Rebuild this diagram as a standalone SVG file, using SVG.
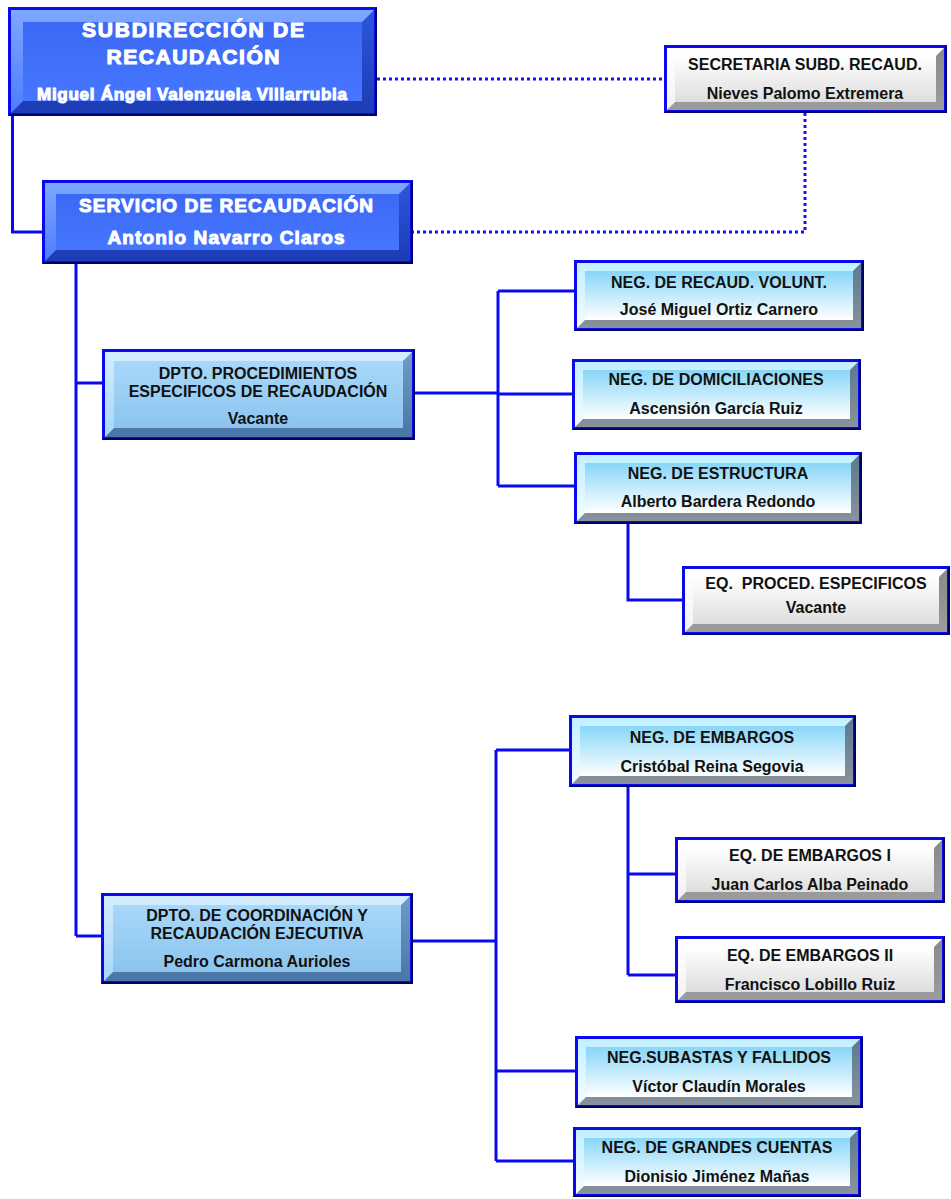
<svg xmlns="http://www.w3.org/2000/svg" width="951" height="1199" viewBox="0 0 951 1199">
<defs>
<linearGradient id="aDk" x1="0" y1="0" x2="0" y2="1"><stop offset="0" stop-color="#2d55dc"/><stop offset="1" stop-color="#1c3cb4"/></linearGradient>
<linearGradient id="aL" x1="0" y1="0" x2="0" y2="1"><stop offset="0" stop-color="#7ea8ff"/><stop offset="1" stop-color="#4c7cff"/></linearGradient>
<linearGradient id="aC" x1="0" y1="0" x2="0" y2="1"><stop offset="0" stop-color="#3c69f4"/><stop offset="1" stop-color="#4676ff"/></linearGradient>
<linearGradient id="bDk" x1="0" y1="0" x2="0" y2="1"><stop offset="0" stop-color="#6e9cc6"/><stop offset="1" stop-color="#4a76a6"/></linearGradient>
<linearGradient id="bL" x1="0" y1="0" x2="0" y2="1"><stop offset="0" stop-color="#d4eeff"/><stop offset="1" stop-color="#a6d6f8"/></linearGradient>
<linearGradient id="bC" x1="0" y1="0" x2="0" y2="1"><stop offset="0" stop-color="#a8d8fa"/><stop offset="1" stop-color="#8cc4ee"/></linearGradient>
<linearGradient id="cDk" x1="0" y1="0" x2="0" y2="1"><stop offset="0" stop-color="#5a7a90"/><stop offset="1" stop-color="#8a929c"/></linearGradient>
<linearGradient id="cL" x1="0" y1="0" x2="0" y2="1"><stop offset="0" stop-color="#c2f0ff"/><stop offset="1" stop-color="#f4fcff"/></linearGradient>
<linearGradient id="cC" x1="0" y1="0" x2="0" y2="1"><stop offset="0" stop-color="#88d6f8"/><stop offset="1" stop-color="#ffffff"/></linearGradient>
<linearGradient id="dDk" x1="0" y1="0" x2="0" y2="1"><stop offset="0" stop-color="#8a8a8a"/><stop offset="1" stop-color="#9c9c9c"/></linearGradient>
<linearGradient id="dL" x1="0" y1="0" x2="0" y2="1"><stop offset="0" stop-color="#ffffff"/><stop offset="1" stop-color="#f2f2f2"/></linearGradient>
<linearGradient id="dC" x1="0" y1="0" x2="0" y2="1"><stop offset="0" stop-color="#ffffff"/><stop offset="1" stop-color="#dedede"/></linearGradient>
</defs>
<style>
.bd{fill:#0a0aea}
.sh{fill:none;stroke:#00006e;stroke-width:2}
.aDk{fill:url(#aDk)}.aL{fill:url(#aL)}.aC{fill:url(#aC)}
.bDk{fill:url(#bDk)}.bL{fill:url(#bL)}.bC{fill:url(#bC)}
.cDk{fill:url(#cDk)}.cL{fill:url(#cL)}.cC{fill:url(#cC)}
.dDk{fill:url(#dDk)}.dL{fill:url(#dL)}.dC{fill:url(#dC)}
text{font-family:"Liberation Sans",Arial,sans-serif;font-weight:bold;text-anchor:middle;white-space:pre}
.w1{fill:#fff;font-size:21px;stroke:#fff;stroke-width:1.1}
.w2{fill:#fff;font-size:19px;stroke:#fff;stroke-width:1}
.w3{fill:#fff;font-size:17px;stroke:#fff;stroke-width:1}
.k{fill:#111;font-size:16px}
.ln{fill:none;stroke:#0a0af2;stroke-width:3}
.dot{fill:none;stroke:#1414ff;stroke-width:3;stroke-dasharray:3 3}
</style>
<g id="connectors">
<path class="dot" d="M377,79 H664"/>
<path class="dot" d="M805,113 V232 H413"/>
<path class="ln" d="M12.5,116 V232 H42"/>
<path class="ln" d="M76,264 V936"/>
<path class="ln" d="M76,383 H102"/>
<path class="ln" d="M76,936 H101"/>
<path class="ln" d="M415,393 H498"/>
<path class="ln" d="M498,291 V486"/>
<path class="ln" d="M498,291 H574"/>
<path class="ln" d="M498,394 H572"/>
<path class="ln" d="M498,486 H574"/>
<path class="ln" d="M628,524 V600 H682"/>
<path class="ln" d="M413,941 H496"/>
<path class="ln" d="M496,750 V1161"/>
<path class="ln" d="M496,750 H569"/>
<path class="ln" d="M496,1071 H575"/>
<path class="ln" d="M496,1161 H573"/>
<path class="ln" d="M628,787 V975"/>
<path class="ln" d="M628,874 H675"/>
<path class="ln" d="M628,975 H675"/>
</g>
<g id="subdireccion">
<rect class="bd" x="8" y="7" width="369" height="109"/>
<rect class="aDk" x="11" y="10" width="363" height="103"/>
<polygon class="aL" points="11,10 374,10 362,22 23,22 23,101 11,113"/>
<rect class="aC" x="23" y="22" width="339" height="79"/>
<path class="sh" d="M376,8 V115 H9"/>
<text class="w1" x="193" y="37" textLength="222" lengthAdjust="spacing">SUBDIRECCIÓN DE</text>
<text class="w1" x="193" y="64" textLength="173" lengthAdjust="spacing">RECAUDACIÓN</text>
<text class="w3" x="192" y="100" textLength="310" lengthAdjust="spacing">Miguel Ángel Valenzuela Villarrubia</text>
</g>
<g id="secretaria">
<rect class="bd" x="664" y="45" width="283" height="68"/>
<rect class="dDk" x="667" y="48" width="277" height="62"/>
<polygon class="dL" points="667,48 944,48 936,56 675,56 675,102 667,110"/>
<rect class="dC" x="675" y="56" width="261" height="46"/>
<path class="sh" d="M946,46 V112 H665"/>
<text class="k" x="805" y="70">SECRETARIA SUBD. RECAUD.</text>
<text class="k" x="805" y="99">Nieves Palomo Extremera</text>
</g>
<g id="servicio">
<rect class="bd" x="42" y="180" width="371" height="84"/>
<rect class="aDk" x="45" y="183" width="365" height="78"/>
<polygon class="aL" points="45,183 410,183 399,194 56,194 56,250 45,261"/>
<rect class="aC" x="56" y="194" width="343" height="56"/>
<path class="sh" d="M412,181 V263 H43"/>
<text class="w2" x="226" y="212" textLength="294" lengthAdjust="spacing">SERVICIO DE RECAUDACIÓN</text>
<text class="w2" x="226" y="244" textLength="237" lengthAdjust="spacing">Antonio Navarro Claros</text>
</g>
<g id="dpto-procedimientos">
<rect class="bd" x="102" y="349" width="313" height="91"/>
<rect class="bDk" x="105" y="352" width="307" height="85"/>
<polygon class="bL" points="105,352 412,352 403,361 114,361 114,428 105,437"/>
<rect class="bC" x="114" y="361" width="289" height="67"/>
<path class="sh" d="M414,350 V439 H103"/>
<text class="k" x="258" y="379">DPTO. PROCEDIMIENTOS</text>
<text class="k" x="258" y="397">ESPECIFICOS DE RECAUDACIÓN</text>
<text class="k" x="258" y="424">Vacante</text>
</g>
<g id="neg-recaud-volunt">
<rect class="bd" x="574" y="260" width="290" height="71"/>
<rect class="cDk" x="577" y="263" width="284" height="65"/>
<polygon class="cL" points="577,263 861,263 853,271 585,271 585,320 577,328"/>
<rect class="cC" x="585" y="271" width="268" height="49"/>
<path class="sh" d="M863,261 V330 H575"/>
<text class="k" x="719" y="288">NEG. DE RECAUD. VOLUNT.</text>
<text class="k" x="719" y="315">José Miguel Ortiz Carnero</text>
</g>
<g id="neg-domiciliaciones">
<rect class="bd" x="572" y="359" width="289" height="71"/>
<rect class="cDk" x="575" y="362" width="283" height="65"/>
<polygon class="cL" points="575,362 858,362 850,370 583,370 583,419 575,427"/>
<rect class="cC" x="583" y="370" width="267" height="49"/>
<path class="sh" d="M860,360 V429 H573"/>
<text class="k" x="716" y="385">NEG. DE DOMICILIACIONES</text>
<text class="k" x="716" y="414">Ascensión García Ruiz</text>
</g>
<g id="neg-estructura">
<rect class="bd" x="574" y="452" width="288" height="72"/>
<rect class="cDk" x="577" y="455" width="282" height="66"/>
<polygon class="cL" points="577,455 859,455 851,463 585,463 585,513 577,521"/>
<rect class="cC" x="585" y="463" width="266" height="50"/>
<path class="sh" d="M861,453 V523 H575"/>
<text class="k" x="718" y="479">NEG. DE ESTRUCTURA</text>
<text class="k" x="718" y="507">Alberto Bardera Redondo</text>
</g>
<g id="eq-proced-especificos">
<rect class="bd" x="682" y="566" width="268" height="69"/>
<rect class="dDk" x="685" y="569" width="262" height="63"/>
<polygon class="dL" points="685,569 947,569 939,577 693,577 693,624 685,632"/>
<rect class="dC" x="693" y="577" width="246" height="47"/>
<path class="sh" d="M949,567 V634 H683"/>
<text class="k" x="816" y="589">EQ.  PROCED. ESPECIFICOS</text>
<text class="k" x="816" y="613">Vacante</text>
</g>
<g id="neg-embargos">
<rect class="bd" x="569" y="715" width="287" height="72"/>
<rect class="cDk" x="572" y="718" width="281" height="66"/>
<polygon class="cL" points="572,718 853,718 845,726 580,726 580,776 572,784"/>
<rect class="cC" x="580" y="726" width="265" height="50"/>
<path class="sh" d="M855,716 V786 H570"/>
<text class="k" x="712" y="743">NEG. DE EMBARGOS</text>
<text class="k" x="712" y="772">Cristóbal Reina Segovia</text>
</g>
<g id="eq-embargos-1">
<rect class="bd" x="675" y="837" width="270" height="66"/>
<rect class="dDk" x="678" y="840" width="264" height="60"/>
<polygon class="dL" points="678,840 942,840 934,848 686,848 686,892 678,900"/>
<rect class="dC" x="686" y="848" width="248" height="44"/>
<path class="sh" d="M944,838 V902 H676"/>
<text class="k" x="810" y="861">EQ. DE EMBARGOS I</text>
<text class="k" x="810" y="890">Juan Carlos Alba Peinado</text>
</g>
<g id="eq-embargos-2">
<rect class="bd" x="675" y="936" width="270" height="67"/>
<rect class="dDk" x="678" y="939" width="264" height="61"/>
<polygon class="dL" points="678,939 942,939 934,947 686,947 686,992 678,1000"/>
<rect class="dC" x="686" y="947" width="248" height="45"/>
<path class="sh" d="M944,937 V1002 H676"/>
<text class="k" x="810" y="961">EQ. DE EMBARGOS II</text>
<text class="k" x="810" y="990">Francisco Lobillo Ruiz</text>
</g>
<g id="dpto-coordinacion">
<rect class="bd" x="101" y="893" width="312" height="91"/>
<rect class="bDk" x="104" y="896" width="306" height="85"/>
<polygon class="bL" points="104,896 410,896 401,905 113,905 113,972 104,981"/>
<rect class="bC" x="113" y="905" width="288" height="67"/>
<path class="sh" d="M412,894 V983 H102"/>
<text class="k" x="257" y="921">DPTO. DE COORDINACIÓN Y</text>
<text class="k" x="257" y="939">RECAUDACIÓN EJECUTIVA</text>
<text class="k" x="257" y="967">Pedro Carmona Aurioles</text>
</g>
<g id="neg-subastas">
<rect class="bd" x="575" y="1036" width="288" height="72"/>
<rect class="cDk" x="578" y="1039" width="282" height="66"/>
<polygon class="cL" points="578,1039 860,1039 852,1047 586,1047 586,1097 578,1105"/>
<rect class="cC" x="586" y="1047" width="266" height="50"/>
<path class="sh" d="M862,1037 V1107 H576"/>
<text class="k" x="719" y="1063">NEG.SUBASTAS Y FALLIDOS</text>
<text class="k" x="719" y="1092">Víctor Claudín Morales</text>
</g>
<g id="neg-grandes-cuentas">
<rect class="bd" x="573" y="1127" width="288" height="70"/>
<rect class="cDk" x="576" y="1130" width="282" height="64"/>
<polygon class="cL" points="576,1130 858,1130 850,1138 584,1138 584,1186 576,1194"/>
<rect class="cC" x="584" y="1138" width="266" height="48"/>
<path class="sh" d="M860,1128 V1196 H574"/>
<text class="k" x="717" y="1153">NEG. DE GRANDES CUENTAS</text>
<text class="k" x="717" y="1182">Dionisio Jiménez Mañas</text>
</g>
</svg>
